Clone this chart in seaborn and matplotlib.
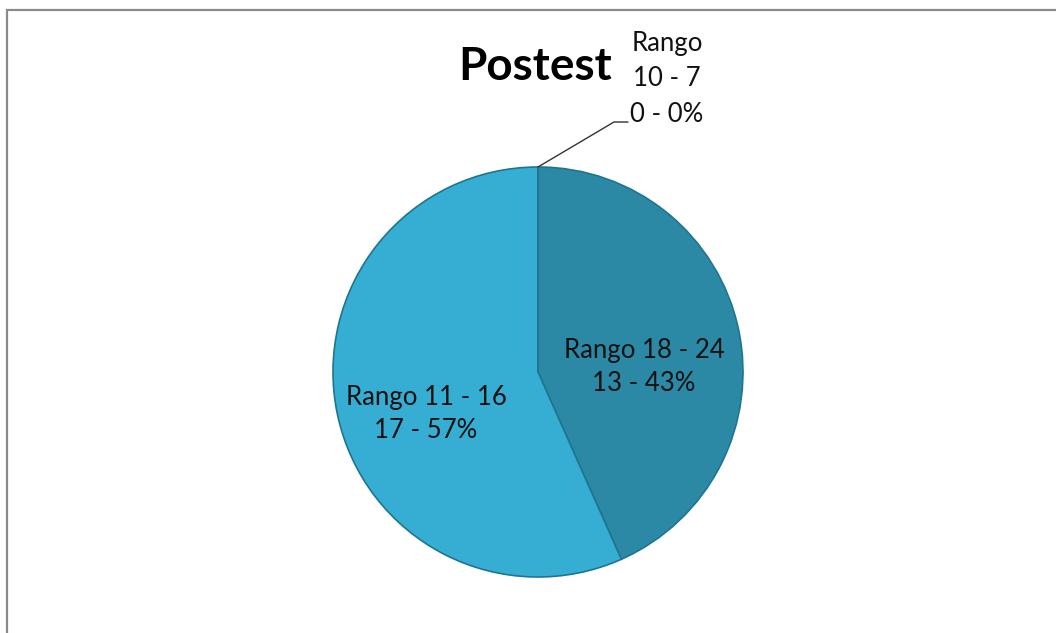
import matplotlib
matplotlib.use("Agg")
import matplotlib.pyplot as plt
import seaborn as sns
from matplotlib.patches import Rectangle

# Data
categories = ["Rango 18 - 24", "Rango 11 - 16", "Rango 10 - 7"]
counts = [13, 17, 0]
percents = ["43%", "57%", "0%"]
title = "Postest"

sns.set_theme(style="white")
plt.rcParams['font.family'] = ['Lato', 'DejaVu Sans']

colors = ["#2b89a6", "#36aed3", "#4bbde0"]

W, H = 1056, 633
fig = plt.figure(figsize=(W / 100, H / 100), dpi=100)
ax = fig.add_axes([0, 0, 1, 1])

cx, cy, r = 538, H - 372, 205
wedges, _ = ax.pie(counts, startangle=90, counterclock=False, colors=colors,
                   center=(cx, cy), radius=r,
                   wedgeprops=dict(linewidth=1.2, edgecolor="#1f7591"))
ax.set_xlim(0, W)
ax.set_ylim(0, H)
ax.set_aspect("equal")
ax.axis("off")

# frame
ax.add_patch(Rectangle((6.5, -20), W + 40, H - 10 + 20, fill=False,
                       edgecolor="#8a8a8a", linewidth=1.6, clip_on=False))

# title
ax.text(535, H - 67, title, ha="center", va="center", fontsize=33,
        fontweight="bold", color="black")

lab_fs = 18.5
# big slice labels
ax.text(644, H - 367, f"{categories[0]}\n{counts[0]} - {percents[0]}",
        ha="center", va="center", fontsize=lab_fs, color="#111111",
        linespacing=1.42)
ax.text(426, H - 414, f"{categories[1]}\n{counts[1]} - {percents[1]}",
        ha="center", va="center", fontsize=lab_fs, color="#111111",
        linespacing=1.42)

# zero slice label with leader line
num = categories[2].split(" ", 1)[1]
ax.text(667, H - 79, f"Rango\n{num}\n{counts[2]} - {percents[2]}",
        ha="center", va="center", fontsize=lab_fs, color="#111111",
        linespacing=1.5)
ax.plot([538, 614, 628], [H - 167, H - 122, H - 122], color="#333333",
        linewidth=1.0)

fig.savefig("out.png", dpi=100, facecolor="white")
